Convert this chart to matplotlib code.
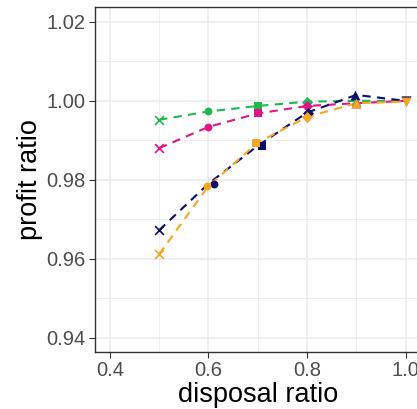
import numpy as np
import matplotlib.pyplot as plt

plt.rcParams['font.family'] = ['Liberation Sans', 'DejaVu Sans']

# Data
disposal = [0.5, 0.6, 0.7, 0.8, 0.9, 1.0]
markers = ['x', 'o', 's', 'D', '^', 'v']

green = [0.9952, 0.9973, 0.9987, 0.9998, 1.0000, 1.0000]
magenta = [0.9880, 0.9934, 0.9968, 0.9987, 0.9994, 1.0000]
navy = [0.9672, 0.9790, 0.9886, 0.9970, 1.0015, 1.0000]
orange = [0.9611, 0.9784, 0.9894, 0.9959, 0.9994, 0.9998]

# small horizontal jitter of the points, as in the reference
navy_jit = [0.0, 0.011, 0.009, 0.003, -0.003, 0.0]
orange_jit = [0.0, -0.003, -0.004, 0.0, 0.0, 0.0]
zero_jit = [0.0] * 6

series = [
    (green, '#1fb84f', zero_jit),
    (magenta, '#e0158a', zero_jit),
    (navy, '#0d0d6b', navy_jit),
    (orange, '#f5a623', orange_jit),
]

fig = plt.figure(figsize=(4.17, 4.09), dpi=100)
ax = fig.add_axes([0.228, 0.14, 0.78, 0.843])

for vals, col, jit in series:
    ax.plot(disposal, vals, linestyle=(0, (4, 3)), color=col, linewidth=1.5, zorder=2)
    for xv, yv, m, dx in zip(disposal, vals, markers, jit):
        if m == 'x':
            ax.scatter(xv + dx, yv, marker=m, color=col, s=40, linewidths=1.2, zorder=3)
        else:
            sz = 50 if m in ('^', 'v') else 32
            ax.scatter(xv + dx, yv, marker=m, color=col, s=sz, linewidths=0, zorder=3)

ax.set_xlim(0.37, 1.03)
ax.set_ylim(0.9364, 1.0238)
ax.set_xticks([0.4, 0.6, 0.8, 1.0])
ax.set_xticklabels(['0.4', '0.6', '0.8', '1.0'])
ax.set_yticks([0.94, 0.96, 0.98, 1.00, 1.02])
ax.set_yticklabels(['0.94', '0.96', '0.98', '1.00', '1.02'])
ax.set_xticks([0.5, 0.7, 0.9], minor=True)
ax.set_yticks([0.95, 0.97, 0.99, 1.01], minor=True)
ax.grid(True, which='major', color='#ebebeb', linewidth=1.1)
ax.grid(True, which='minor', color='#ebebeb', linewidth=0.6)
ax.set_axisbelow(True)
ax.tick_params(which='minor', length=0)
ax.tick_params(which='major', length=4, color='#333333', labelsize=14.5, labelcolor='#4d4d4d', pad=3)
for sp in ax.spines.values():
    sp.set_color('#333333')
    sp.set_linewidth(1.0)

ax.set_xlabel('disposal ratio', fontsize=19.5, labelpad=1)
ax.set_ylabel('profit ratio', fontsize=19.5, labelpad=2)

fig.savefig('out.png', dpi=100)
